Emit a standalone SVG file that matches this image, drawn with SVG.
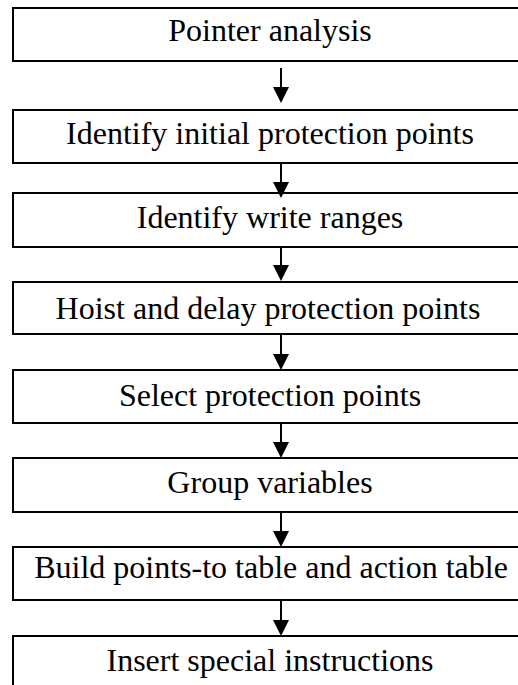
<svg xmlns="http://www.w3.org/2000/svg" width="518" height="685" viewBox="0 0 518 685">
<style>
  .box { fill: #ffffff; stroke: #000000; stroke-width: 2; }
  .lbl { font-family: "Liberation Serif", "Times New Roman", serif; font-size: 32px; fill: #000000; text-anchor: middle; }
  .edge { stroke: #000000; stroke-width: 2; fill: none; marker-end: url(#ah); }
</style>
<defs>
  <marker id="ah" markerUnits="userSpaceOnUse" markerWidth="16" markerHeight="16" viewBox="0 0 16 16" refX="0" refY="8" orient="auto">
    <path d="M0,0 L16,8 L0,16 Z" fill="#000000"/>
  </marker>
</defs>
<rect width="518" height="685" fill="#ffffff"/>
<g id="n1"><rect class="box" x="13" y="8" width="520" height="53"/><text class="lbl" x="270" y="41">Pointer analysis</text></g>
<g id="n2"><rect class="box" x="13" y="110" width="520" height="53"/><text class="lbl" x="270" y="144">Identify initial protection points</text></g>
<g id="n3"><rect class="box" x="13" y="193" width="520" height="54"/><text class="lbl" x="270" y="228">Identify write ranges</text></g>
<g id="n4"><rect class="box" x="13" y="282" width="520" height="52"/><text class="lbl" x="268" y="319">Hoist and delay protection points</text></g>
<g id="n5"><rect class="box" x="13" y="370" width="520" height="53"/><text class="lbl" x="270" y="406">Select protection points</text></g>
<g id="n6"><rect class="box" x="13" y="458" width="520" height="54"/><text class="lbl" x="270" y="493">Group variables</text></g>
<g id="n7"><rect class="box" x="13" y="547" width="520" height="53"/><text class="lbl" x="271" y="578">Build points-to table and action table</text></g>
<g id="n8"><rect class="box" x="13" y="636" width="520" height="60"/><text class="lbl" x="270" y="671">Insert special instructions</text></g>
<g id="edges">
  <line class="edge" x1="281" y1="68" x2="281" y2="87"/>
  <line class="edge" x1="281" y1="164" x2="281" y2="182"/>
  <line class="edge" x1="281" y1="248" x2="281" y2="265"/>
  <line class="edge" x1="281" y1="335" x2="281" y2="354"/>
  <line class="edge" x1="281" y1="424" x2="281" y2="442"/>
  <line class="edge" x1="281" y1="513" x2="281" y2="531"/>
  <line class="edge" x1="281" y1="601" x2="281" y2="620"/>
</g>
</svg>
